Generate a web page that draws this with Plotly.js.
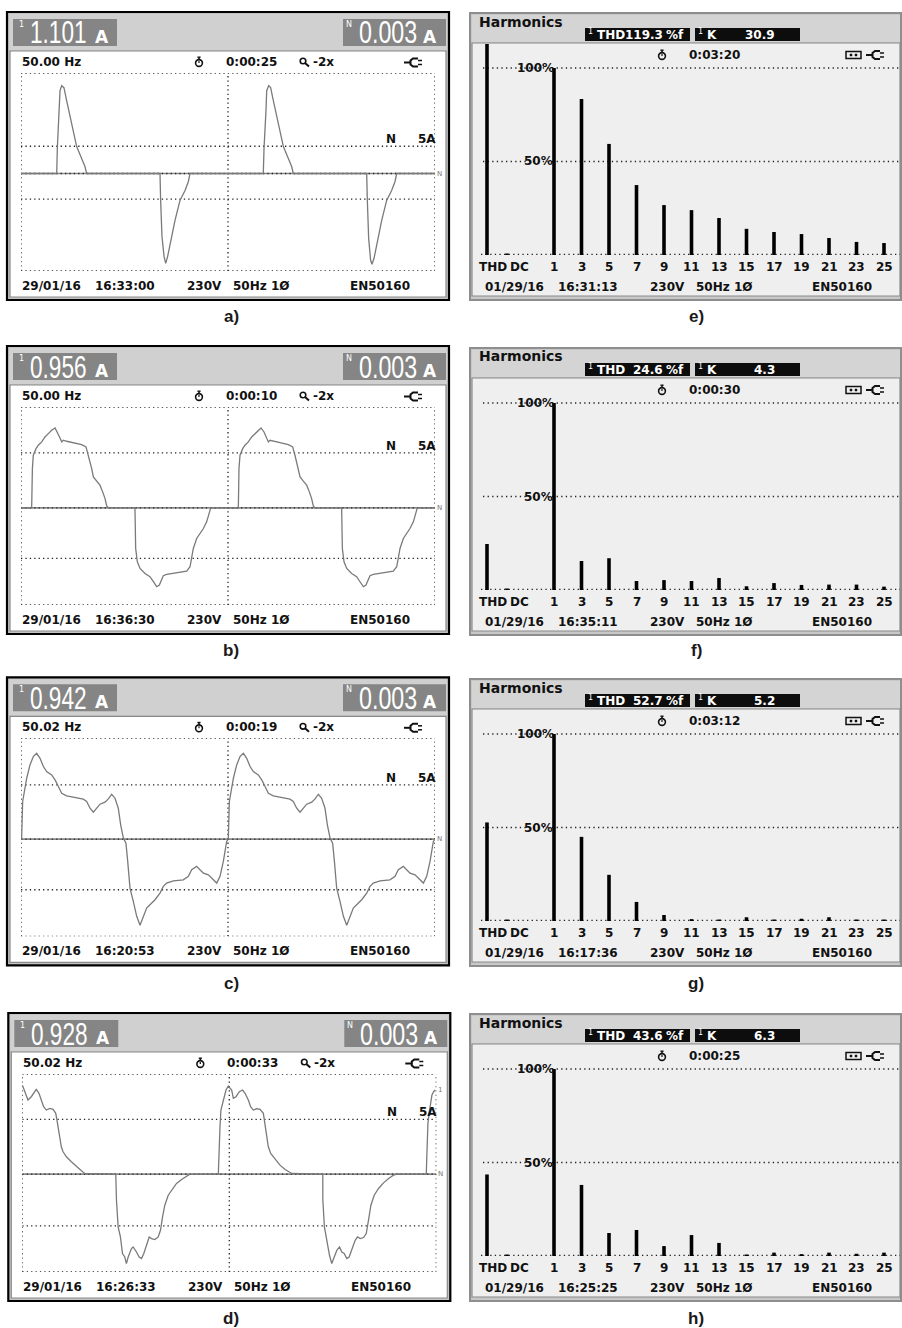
<!DOCTYPE html>
<html><head><meta charset="utf-8">
<script src="https://cdn.plot.ly/plotly-3.0.1.min.js"></script>
<style>html,body{margin:0;padding:0;background:#fff;}#chart{width:902px;height:1328px;}</style>
</head><body><div id="chart"></div>
<script>
// ---------------- DATA ----------------
// Waveforms: time in ms (2 cycles over 40 ms), current in display units (zero line = 0)
const tA = [0,3.45,3.51,3.70,3.77,3.93,4.15,4.41,4.73,5.06,5.38,5.86,6.18,6.34,
  13.43,13.49,13.62,13.82,13.98,14.17,14.46,14.88,15.36,15.85,16.17,16.33,
  23.41,23.48,23.67,23.74,23.93,24.12,24.38,24.70,25.02,25.35,25.83,26.15,26.31,
  33.40,33.46,33.59,33.78,33.91,34.11,34.43,34.85,35.33,35.81,36.14,36.30,40];
const iA = [0,0,25,63,83,88,86,73,57,40,27,15,7,0,
  0,-26,-63,-83,-90,-83,-67,-47,-27,-17,-8,0,
  0,25,63,83,88,86,73,57,40,27,15,7,0,
  0,-26,-65,-87,-91,-85,-67,-47,-27,-17,-8,0,0];

const tB = [0,1.03,1.10,1.19,1.45,1.67,2.00,2.32,2.64,2.96,3.29,3.51,3.77,3.93,4.09,4.41,5.06,5.86,6.28,6.51,6.67,6.83,6.99,7.31,7.63,7.89,8.12,8.28,8.44,
  11.01,11.08,11.24,11.50,11.98,12.46,12.79,13.11,13.37,13.59,13.75,14.07,14.72,15.52,16.01,16.33,16.49,16.65,16.97,17.29,17.62,17.94,18.20,18.33,
  21.00,21.06,21.16,21.42,21.64,21.96,22.29,22.61,22.93,23.19,23.48,23.74,23.90,24.06,24.38,25.02,25.83,26.25,26.47,26.63,26.80,26.96,27.28,27.60,27.86,28.08,28.24,28.41,
  30.98,31.05,31.21,31.47,31.95,32.43,32.75,33.08,33.33,33.56,33.72,34.04,34.69,35.49,35.97,36.30,36.46,36.62,36.94,37.26,37.58,37.91,38.16,38.29,40];
const iB = [0,0,39.3,52.7,59.3,62.7,66,71,74.3,77.7,80,76,70,66,67.7,66.7,65.3,63.3,61,52.7,46,39.3,31,26.7,22.7,16,9.3,2,0,
  0,-40.7,-54,-60.7,-65.7,-69,-74,-79,-77.3,-72.3,-68,-66.7,-65.7,-64.7,-63.3,-59,-50.7,-40.7,-30.7,-25.7,-20.7,-14,-5.7,0,
  0,39.3,52.7,59.3,62.7,66,71,74.3,77.7,80,76,70,66,67.7,66.7,65.3,63.3,61,52.7,46,39.3,31,26.7,22.7,16,9.3,2,0,
  0,-40.7,-54,-60.7,-65.7,-69,-74,-79,-77.3,-72.3,-68,-66.7,-65.7,-64.7,-63.3,-59,-50.7,-40.7,-30.7,-25.7,-20.7,-14,-5.7,0,0];

const tC = [0,0.06,0.16,0.39,0.55,0.87,1.19,1.51,1.84,2.16,2.48,2.96,3.29,3.61,3.93,4.41,5.06,6.02,6.34,6.67,6.99,7.31,7.63,8.12,8.44,8.76,9.08,9.40,9.63,9.89,10.14,10.31,10.53,10.85,11.18,11.50,11.82,12.14,12.46,12.95,13.43,13.75,14.07,14.72,15.68,16.17,16.49,16.97,17.29,17.62,18.10,18.58,18.91,19.23,19.55,19.87,20.03,
  20.13,20.36,20.52,20.84,21.16,21.48,21.81,22.13,22.45,22.93,23.26,23.58,23.90,24.38,25.03,25.99,26.31,26.64,26.96,27.28,27.60,28.09,28.41,28.73,29.05,29.37,29.60,29.86,30.11,30.28,30.50,30.82,31.15,31.47,31.79,32.11,32.43,32.92,33.40,33.72,34.04,34.69,35.65,36.14,36.46,36.94,37.26,37.59,38.07,38.55,38.88,39.20,39.52,39.84,40.0];
const iC = [0,0,37.7,51,61,74.3,82.7,86,81,72.7,67.7,64.3,59.3,52.7,46,43.3,41.7,40,37.7,31,27,31,35,37,40.3,45,41,31,14.3,1,-4,-22.3,-49,-62.3,-77.3,-86.3,-77.3,-69,-65.7,-60.7,-54,-47.3,-44,-41.7,-40.7,-37.3,-30.7,-27.3,-30.7,-34,-35.7,-40.7,-44,-37.3,-22.3,-2.3,0,
  37.7,51,61,74.3,82.7,86,81,72.7,67.7,64.3,59.3,52.7,46,43.3,41.7,40,37.7,31,27,31,35,37,40.3,45,41,31,14.3,1,-4,-22.3,-49,-62.3,-77.3,-86.3,-77.3,-69,-65.7,-60.7,-54,-47.3,-44,-41.7,-40.7,-37.3,-30.7,-27.3,-30.7,-34,-35.7,-40.7,-44,-37.3,-22.3,-2.3,0];

const tD = [0,0.13,0.32,0.55,0.87,1.35,1.61,1.84,2.06,2.32,2.65,2.97,3.23,3.35,3.55,3.68,3.77,3.94,4.26,4.74,5.23,5.71,6.03,
  9.03,9.10,9.26,9.48,9.68,9.90,10.06,10.23,10.55,10.71,10.87,11.03,11.29,11.52,11.74,12.00,12.26,12.48,12.81,13.13,13.35,13.55,13.77,14.10,14.42,14.90,15.39,15.87,16.19,
  18.94,19.00,19.10,19.19,19.42,19.68,19.90,20.06,20.23,20.39,20.65,20.97,21.29,21.52,21.84,22.06,22.32,22.65,22.97,23.29,23.45,23.61,23.77,24.00,24.42,24.90,25.39,26.03,
  29.03,29.04,29.19,29.42,29.68,29.90,30.06,30.39,30.65,30.87,31.10,31.35,31.58,31.84,32.16,32.39,32.65,32.97,33.23,33.45,33.68,34.00,34.42,34.90,35.39,35.87,36.19,
  39.03,39.10,39.19,39.35,39.58,39.74,39.90];
const iD = [89,85.7,80.7,74,77.3,84.7,80.7,74,67.3,64,65.7,64.7,60.7,54,40.7,34,27.3,22.3,17.3,12.3,7.3,3.3,0.7,
  0,-26,-52.7,-62.7,-79.3,-82.7,-89.3,-82.7,-74.3,-72.7,-76,-77.7,-82.7,-84.3,-79.3,-71,-62.7,-64.3,-65.3,-62.7,-56,-42.7,-31,-21,-16,-9.3,-5.3,-2,0,
  0,27.3,47.3,64,74,84,88,85.7,84,75.7,77.3,82.3,84,80.7,74,67.3,64,65.3,64.7,60.7,50.7,37.3,27.3,20.7,14.7,9,4.7,0.7,
  0,-26,-52.7,-66,-81,-89.3,-84.3,-76,-72.7,-77.7,-79.3,-84.3,-82.7,-74.3,-66,-62.7,-64.3,-63.3,-59.3,-46,-31,-21,-14.3,-8.7,-4.3,-1,0,
  0,27.3,50.7,64,79,82.3,84];

const rmsL1 = ['1.101','0.956','0.942','0.928'];
const rmsN = ['0.003','0.003','0.003','0.003'];
const freqs = ['50.00 Hz','50.00 Hz','50.02 Hz','50.02 Hz'];
const wfTimers = ['0:00:25','0:00:10','0:00:19','0:00:33'];
const wfDates = ['29/01/16','29/01/16','29/01/16','29/01/16'];
const wfClocks = ['16:33:00','16:36:30','16:20:53','16:26:33'];
const wfLabels = ['a)','b)','c)','d)'];

// Harmonics: % of fundamental
const harmOrders = [1,3,5,7,9,11,13,15,17,19,21,23,25];
const harmE = [100,83.4,59.4,37.4,26.7,24.0,19.8,14.0,12.3,11.2,9.1,7.0,6.4];
const harmF = [100,15.5,17.0,4.8,5.3,4.8,6.4,2.0,3.7,2.7,2.9,2.9,1.8];
const harmG = [100,45.0,24.7,10.2,3.2,1.0,0.8,2.0,0.8,1.2,2.0,0.8,0.8];
const harmH = [100,38.0,12.3,13.9,5.3,11.2,7.0,0.8,1.8,1.0,1.8,1.2,1.8];
const thdVals = [119.3,24.6,52.7,43.6];
const dcVals = [0.8,0.8,0.8,0.8];
const thdText = ['119.3','24.6','52.7','43.6'];
const kText = ['30.9','4.3','5.2','6.3'];
const hTimers = ['0:03:20','0:00:30','0:03:12','0:00:25'];
const hDates = ['01/29/16','01/29/16','01/29/16','01/29/16'];
const hClocks = ['16:31:13','16:35:11','16:17:36','16:25:25'];
const hLabels = ['e)','f)','g)','h)'];

// ---------------- LAYOUT HELPERS ----------------
const W = 902, H = 1328;
const px = x => x / W;
const py = y => 1 - y / H;
const FONT = 'DejaVu Sans, Verdana, sans-serif';
const BIG = 'Liberation Sans, Arial, sans-serif';
const LABEL = 'Liberation Sans, Arial, sans-serif';
const traces = [], shapes = [], annotations = [];
const squeeze = [];
const layout = {
  width: W, height: H, margin: {l:0, r:0, t:0, b:0},
  paper_bgcolor: '#ffffff', plot_bgcolor: 'rgba(0,0,0,0)',
  showlegend: false, shapes, annotations
};
const aid = n => (n === 1 ? '' : String(n));

function rect(x0, y0, x1, y1, fill, lc, lw, layer) {
  shapes.push({type:'rect', xref:'paper', yref:'paper', x0:px(x0), x1:px(x1), y0:py(y1), y1:py(y0),
    fillcolor: fill || 'rgba(0,0,0,0)', line:{color: lc || 'rgba(0,0,0,0)', width: lw || 0}, layer: layer || 'below'});
}
function poly(pts, color, w, closed, fill) {
  const d = pts.map((p, i) => (i ? 'L' : 'M') + px(p[0]).toFixed(5) + ',' + py(p[1]).toFixed(5)).join(' ') + (closed ? ' Z' : '');
  shapes.push({type:'path', xref:'paper', yref:'paper', path:d, line:{color, width:w}, fillcolor: fill || 'rgba(0,0,0,0)', layer:'above'});
}
function circ(cx, cy, r, color, w, fill) {
  shapes.push({type:'circle', xref:'paper', yref:'paper', x0:px(cx-r), x1:px(cx+r), y0:py(cy+r), y1:py(cy-r),
    line:{color, width:w}, fillcolor: fill || 'rgba(0,0,0,0)', layer:'above'});
}
function dot(n, x0, x1, y0, y1, color, w, dash) {
  shapes.push({type:'line', xref:'x'+aid(n), yref:'y'+aid(n), x0, x1, y0, y1,
    line:{color: color || '#222', width: w || 1.3, dash: dash || '1.3px,3.1px'}, layer:'below'});
}
function note(x, y, text, o) {
  o = o || {};
  const xr = o.xref || 'paper', yr = o.yref || 'paper';
  annotations.push({
    xref: xr, yref: yr,
    x: xr === 'paper' ? px(x) : x, y: yr === 'paper' ? py(y) : y,
    text, showarrow:false, borderpad:0, borderwidth:0,
    xanchor: o.xanchor || 'left', yanchor: o.yanchor || 'middle',
    font:{family: o.family || FONT, size: o.size || 12, color: o.color || '#111', weight: o.weight || 'bold'}
  });
  if (o.squeeze) squeeze.push([annotations.length - 1, o.squeeze]);
}
function stopwatch(cx, cy) {
  circ(cx, cy + 1, 3.4, '#111', 1.6);
  poly([[cx, cy - 4.6], [cx, cy - 2.4]], '#111', 1.6);
  poly([[cx - 1.6, cy - 4.8], [cx + 1.6, cy - 4.8]], '#111', 1.4);
  poly([[cx, cy + 1], [cx, cy - 1]], '#111', 1.2);
}
function plug(x, cy) {
  poly([[x, cy], [x + 6, cy]], '#111', 2);
  poly([[x + 14, cy - 4], [x + 9, cy - 4], [x + 6.5, cy - 2], [x + 6.5, cy + 2], [x + 9, cy + 4], [x + 14, cy + 4]], '#111', 2);
  poly([[x + 14, cy - 2], [x + 18, cy - 2]], '#111', 1.5);
  poly([[x + 14, cy + 2], [x + 18, cy + 2]], '#111', 1.5);
}

// ---------------- WAVEFORM PANELS ----------------
const wfDY = [0, 334, 665.3, 1001];
const wfDX = [0, 0, 0, 1.3];
const wfYRange = [[-97.7,100.7],[-97.3,101],[-97.3,101],[-97.7,100]];
const wfInner = [[27.3,-25.7],[55,-50.7],[54.3,-50.7],[54.7,-51.7]];
const wfT = [tA, tB, tC, tD], wfI = [iA, iB, iC, iD];
const labelY = [317, 650, 983, 1318];

for (let k = 0; k < 4; k++) {
  const n = k + 1, dy = wfDY[k], dx = wfDX[k];
  const X = x => x + dx, Y = y => y + dy;
  rect(X(7), Y(12), X(449), Y(300), '#c4c4c4', '#000', 2.2);
  rect(X(9), Y(14), X(447), Y(50), '#d0d0d0');
  rect(X(10), Y(51), X(446), Y(297), '#ffffff', '#8a8a8a', 1.2);
  rect(X(13), Y(19), X(117), Y(46), '#858585');
  rect(X(343), Y(19), X(446), Y(46), '#858585');

  layout['xaxis' + aid(n)] = {domain:[px(X(21)), px(X(435))], range:[0, 40], visible:false, fixedrange:true, anchor:'y' + aid(n)};
  const yr = wfYRange[k];
  layout['yaxis' + aid(n)] = {domain:[py(Y(271)), py(Y(73))], range:yr, visible:false, fixedrange:true, anchor:'x' + aid(n)};

  // grid
  dot(n, 0, 40, 0, 0, '#8a8a8a', 1.6, 'solid');
  [yr[1], wfInner[k][0], 0, wfInner[k][1], yr[0]].forEach(v => dot(n, 0, 40, v, v));
  [0, 20, 40].forEach(v => dot(n, v, v, yr[0], yr[1]));

  traces.push({type:'scatter', mode:'lines', x:wfT[k], y:wfI[k], xaxis:'x' + aid(n), yaxis:'y' + aid(n),
    line:{color:'#7a7a7a', width:1.3}, hoverinfo:'skip', cliponaxis:false});

  // header
  note(X(18.5), Y(24), '1', {size:8, color:'#fff', weight:'normal'});
  note(X(30), Y(33), rmsL1[k], {size:31, color:'#fff', weight:'normal', family:BIG, squeeze:0.73});
  note(X(95), Y(37), 'A', {size:17, color:'#fff'});
  note(X(346), Y(24), 'N', {size:8, color:'#fff', weight:'normal'});
  note(X(359), Y(33), rmsN[k], {size:31, color:'#fff', weight:'normal', family:BIG, squeeze:0.75});
  note(X(423), Y(37), 'A', {size:17, color:'#fff'});

  // status row
  note(X(22), Y(62), freqs[k]);
  stopwatch(X(199), Y(62));
  note(X(226), Y(62), wfTimers[k]);
  circ(X(303), Y(61), 2.8, '#111', 1.6);
  poly([[X(305), Y(63)], [X(309), Y(66.5)]], '#111', 2);
  note(X(313), Y(62), '-2x');
  plug(X(404), Y(62.5));

  // scale marker
  note(X(391), wfInner[k][0], 'N', {yref:'y' + aid(n), xanchor:'center', yanchor:'bottom'});
  note(X(436), wfInner[k][0], '5A', {yref:'y' + aid(n), xanchor:'right', yanchor:'bottom'});
  note(X(437), 0, 'N', {yref:'y' + aid(n), size:7, color:'#777', weight:'normal'});
  if (k === 3) note(X(437), 84, '1', {yref:'y' + aid(n), size:7, color:'#777', weight:'normal'});

  // bottom row
  note(X(22), Y(286), wfDates[k]);
  note(X(95), Y(286), wfClocks[k]);
  note(X(187), Y(286), '230V');
  note(X(233), Y(286), '50Hz 1Ø');
  note(X(350), Y(286), 'EN50160');

  note(231, labelY[k], wfLabels[k], {xanchor:'center', size:17, family:LABEL, color:'#1a1a1a'});
}

// ---------------- HARMONICS PANELS ----------------
const hDY = [0, 335, 666, 1001];
const harmSets = [harmE, harmF, harmG, harmH];
const pxPerOrder = 13.75, firstBarPx = 554, pxPerPct = 1.87;
const hAt = p => 1 + (p - firstBarPx) / pxPerOrder;
const thdPos = hAt(487), dcPos = hAt(507);

for (let k = 0; k < 4; k++) {
  const n = k + 5, dy = hDY[k];
  const Y = y => y + dy;
  rect(470, Y(13), 901, Y(300), '#c8c8c8', '#8e8e8e', 2);
  rect(472, Y(15), 900, Y(42), '#d4d4d4');
  rect(472, Y(43), 900, Y(296), '#efefef', '#8a8a8a', 1.2);
  rect(585, Y(28), 690, Y(41), '#0d0d0d');
  rect(695, Y(28), 800, Y(41), '#0d0d0d');

  const yTop = (255 - 44) / pxPerPct;
  layout['xaxis' + aid(n)] = {domain:[px(481), px(900)], range:[hAt(481), hAt(900)], visible:false, fixedrange:true, anchor:'y' + aid(n)};
  layout['yaxis' + aid(n)] = {domain:[py(Y(255)), py(Y(44))], range:[0, yTop], visible:false, fixedrange:true, anchor:'x' + aid(n)};

  [100, 50].forEach(v => dot(n, hAt(483), hAt(900), v, v, '#222', 1.3, '1.3px,3.3px'));
  dot(n, hAt(481), hAt(900), 0.3, 0.3, '#222', 1.3, '1.3px,3.3px');

  traces.push({type:'bar', x:[thdPos, dcPos].concat(harmOrders), y:[thdVals[k], dcVals[k]].concat(harmSets[k]),
    xaxis:'x' + aid(n), yaxis:'y' + aid(n), width:0.26, marker:{color:'#000', line:{width:0}}, hoverinfo:'skip'});

  note(479, Y(21.5), 'Harmonics', {size:14});
  note(587.5, Y(31.5), '1', {size:8, color:'#fff', weight:'normal'});
  note(597, Y(35), 'THD', {color:'#fff'});
  note(663, Y(35), thdText[k], {color:'#fff', xanchor:'right'});
  note(666, Y(35), '%f', {color:'#fff'});
  note(697.5, Y(31.5), '1', {size:8, color:'#fff', weight:'normal'});
  note(707, Y(35), 'K', {color:'#fff'});
  note(775, Y(35), kText[k], {color:'#fff', xanchor:'right'});

  stopwatch(662, Y(55));
  note(689, Y(55), hTimers[k]);
  rect(846, Y(51.5), 861, Y(58.5), 'rgba(0,0,0,0)', '#111', 1.5, 'above');
  rect(850, Y(54), 852, Y(56), '#111', '#111', 0.5, 'above');
  rect(855, Y(54), 857, Y(56), '#111', '#111', 0.5, 'above');
  plug(866, Y(55));

  note(554, 100, '100%', {yref:'y' + aid(n), xanchor:'right'});
  note(552.5, 50, '50%', {yref:'y' + aid(n), xanchor:'right'});

  harmOrders.forEach(h => note(h, Y(267), String(h), {xref:'x' + aid(n), xanchor:'center'}));
  note(493, Y(267), 'THD', {xanchor:'center'});
  note(519, Y(267), 'DC', {xanchor:'center'});

  note(485, Y(287), hDates[k]);
  note(558, Y(287), hClocks[k]);
  note(650, Y(287), '230V');
  note(696, Y(287), '50Hz 1Ø');
  note(812, Y(287), 'EN50160');

  note(696, labelY[k], hLabels[k], {xanchor:'center', size:17, family:LABEL, color:'#1a1a1a'});
}

Plotly.newPlot('chart', traces, layout, {staticPlot:true, displayModeBar:false}).then(gd => {
  // narrow the big LCD-style readings horizontally (instrument uses a condensed digit font)
  squeeze.forEach(([idx, s]) => {
    const g = gd.querySelector('.annotation[data-index="' + idx + '"] text.annotation-text');
    if (g) {
      g.style.transformBox = 'fill-box';
      g.style.transformOrigin = '0 50%';
      g.style.transform = 'scaleX(' + s + ')';
    }
  });
});
</script></body></html>
